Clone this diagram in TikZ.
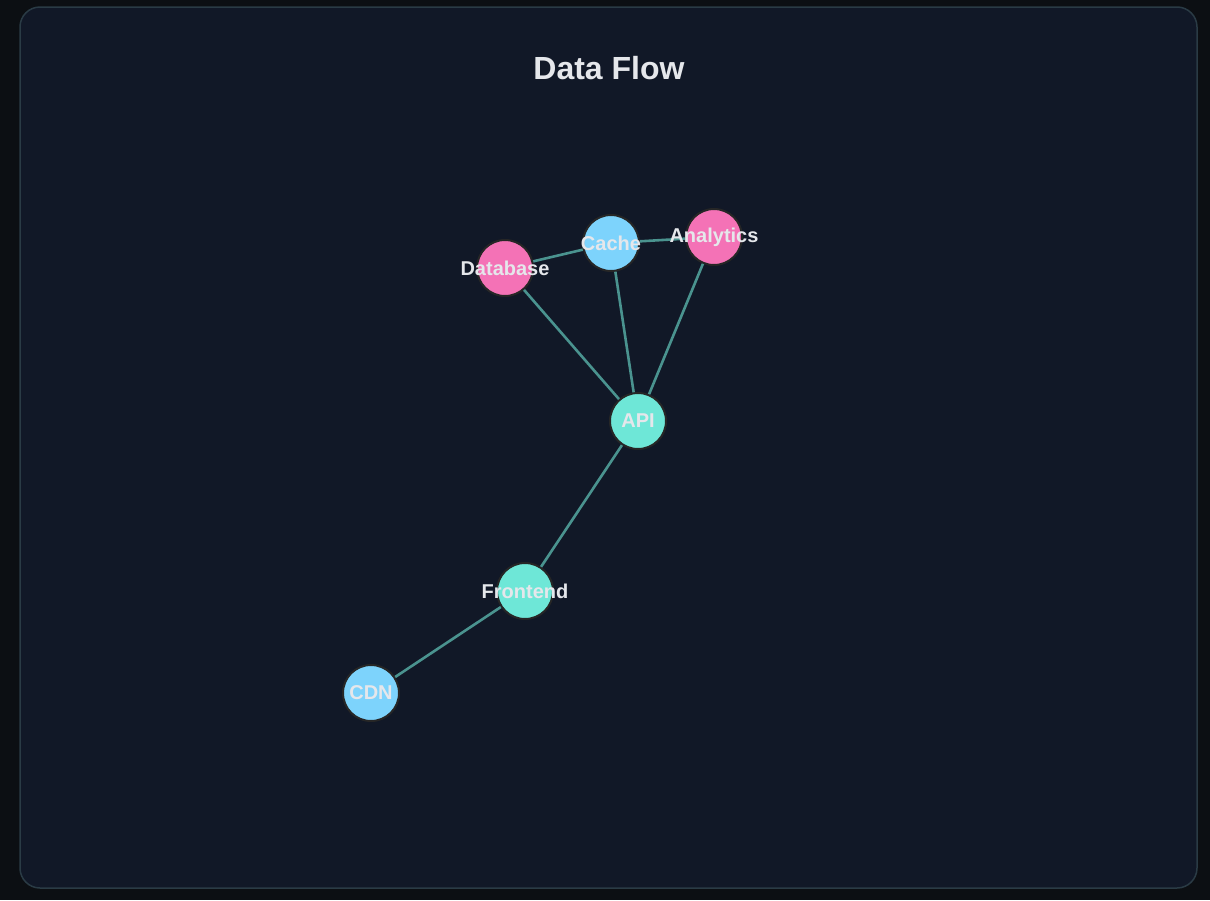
\documentclass[tikz,border=0pt]{standalone}
\usepackage{fontspec}
\setmainfont{Liberation Sans}
\definecolor{outerbg}{HTML}{0C0F13}
\definecolor{panel}{HTML}{111827}
\definecolor{panelborder}{HTML}{2A3B45}
\definecolor{edgec}{HTML}{4A938F}
\definecolor{pinkc}{HTML}{F472B6}
\definecolor{bluec}{HTML}{7DD3FC}
\definecolor{tealc}{HTML}{6EE7D7}
\definecolor{txt}{HTML}{E5E7EB}
\begin{document}
\begin{tikzpicture}[x=1pt,y=-1pt,
  nd/.style={circle,draw=black!85,line width=2pt,minimum size=56pt,inner sep=0pt},
  lbl/.style={text=txt,font=\bfseries\fontsize{20}{24}\selectfont},
  edge/.style={draw=edgec,line width=2.6pt}]
\fill[outerbg] (0,0) rectangle (1210,900);
\useasboundingbox (0,0) rectangle (1210,900);
\draw[panelborder,fill=panel,line width=1.5pt,rounded corners=20pt] (20,7) rectangle (1197,888);
\node[text=txt,font=\bfseries\fontsize{32}{38}\selectfont] (title) at (609,68) {Data Flow};
\node[nd,fill=pinkc] (db) at (505,268) {};
\node[nd,fill=bluec] (cache) at (611,243) {};
\node[nd,fill=pinkc] (an) at (714,237) {};
\node[nd,fill=tealc] (api) at (638,421) {};
\node[nd,fill=tealc] (fe) at (525,591) {};
\node[nd,fill=bluec] (cdn) at (371,693) {};
\begin{scope}[on background layer/.style={}]
\end{scope}
\draw[edge] (db) -- (cache);
\draw[edge] (cache) -- (an);
\draw[edge] (db) -- (api);
\draw[edge] (cache) -- (api);
\draw[edge] (an) -- (api);
\draw[edge] (api) -- (fe);
\draw[edge] (fe) -- (cdn);
\node[lbl] (ldb) at (505,268) {Database};
\node[lbl] (lcache) at (611,243) {Cache};
\node[lbl] (lan) at (714,237) {Analytics};
\node[lbl] (lapi) at (638,421) {API};
\node[lbl] (lfe) at (525,591) {Frontend};
\node[lbl] (lcdn) at (371,693) {CDN};
\end{tikzpicture}
\end{document}
